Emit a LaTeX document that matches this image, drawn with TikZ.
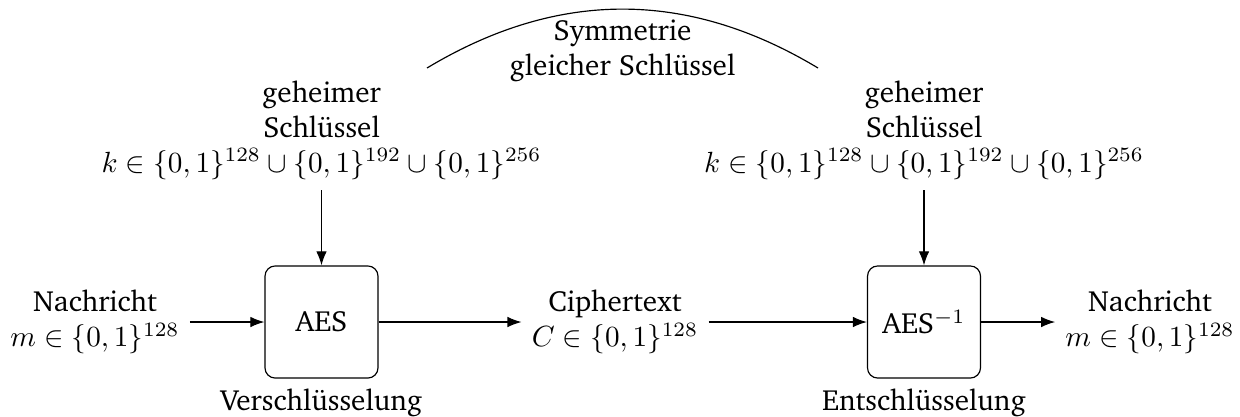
\documentclass[tikz,border=0pt]{standalone}
\usepackage[T1]{fontenc}
\renewcommand{\rmdefault}{bch}
\usetikzlibrary{arrows.meta}
\begin{document}
\begin{tikzpicture}[x=0.3425pt,y=-0.3425pt,
  txt/.style={align=center},
  cipher/.style={draw,rounded corners=3.5pt,minimum width=38.7pt,minimum height=38.4pt},
  arr/.style={-{Latex}}]
\useasboundingbox (0,0) rectangle (1240,416);
% boxes
\node[cipher] (aes) at (321.5,322) {AES};
\node[cipher] (aesinv) at (924,322) {AES$^{-1}$};
\node[anchor=north] (enc) at (aes.south) {Verschlüsselung};
\node[anchor=north] (dec) at (aesinv.south) {Entschlüsselung};
% messages
\node[txt] (msg) at (95,322) {Nachricht\\$m\in\{0,1\}^{128}$};
\node[txt] (ct) at (615,322) {Ciphertext\\$C\in\{0,1\}^{128}$};
\node[txt] (msgout) at (1150,322) {Nachricht\\$m\in\{0,1\}^{128}$};
% keys
\node[txt,anchor=south] (key1) at (321.5,190) {geheimer\\Schlüssel\\$k\in\{0,1\}^{128}\cup\{0,1\}^{192}\cup\{0,1\}^{256}$};
\node[txt,anchor=south] (key2) at (924,190) {geheimer\\Schlüssel\\$k\in\{0,1\}^{128}\cup\{0,1\}^{192}\cup\{0,1\}^{256}$};
% connectors
\draw[arr] (msg) -- (aes);
\draw[arr] (aes) -- (ct);
\draw[arr] (ct) -- (aesinv);
\draw[arr] (aesinv) -- (msgout);
\draw[arr] (key1) -- (aes);
\draw[arr] (key2) -- (aesinv);
% symmetry arc
\coordinate (arcL) at (427,68);
\coordinate (arcR) at (818,68);
\draw (arcL) to[bend left=31] node[midway,below,txt] (sym) {Symmetrie\\gleicher Schlüssel} (arcR);
\end{tikzpicture}
\end{document}
